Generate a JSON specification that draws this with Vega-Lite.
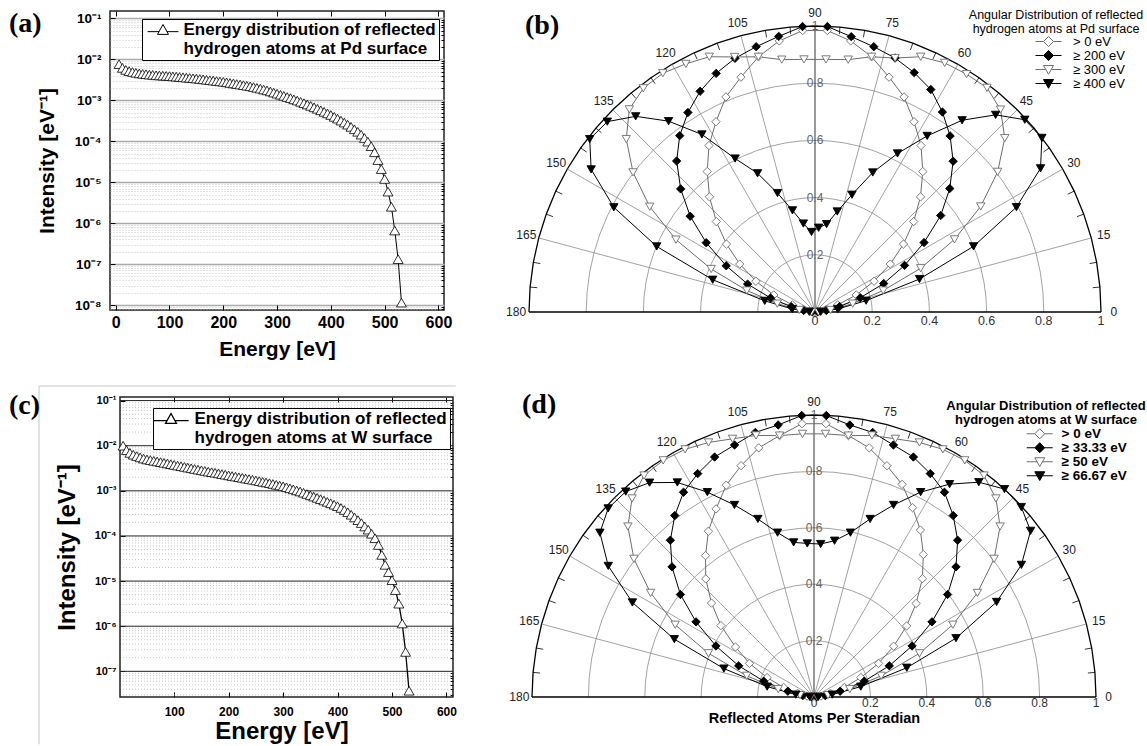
{
"$schema": "https://vega.github.io/schema/vega-lite/v6.json",
"background": "white",
"padding": {"left": 8, "top": 7, "right": 0, "bottom": 0},
"columns": 1,
"align": "none",
"spacing": 25,
"resolve": {"scale": {"shape": "independent", "fill": "independent", "stroke": "independent"}, "legend": {"shape": "independent", "fill": "independent", "stroke": "independent"}},
"config": {
  "font": "Liberation Sans",
  "view": {"stroke": null},
  "axis": {"labelFont": "Liberation Sans", "titleFont": "Liberation Sans", "labelColor": "black", "titleColor": "black", "tickColor": "black", "domain": false, "labelOverlap": false, "labelFlush": false},
  "legend": {"labelFont": "Liberation Sans", "titleFont": "Liberation Sans"},
  "title": {"font": "Liberation Serif"}
},
"datasets": {
"pdE": [
{"E":6.25,"I":7.59e-3},{"E":12.5,"I":6.17e-3},{"E":18.75,"I":5.50e-3},{"E":25,"I":5.13e-3},{"E":31.25,"I":4.90e-3},{"E":37.5,"I":4.68e-3},{"E":43.75,"I":4.52e-3},{"E":50,"I":4.42e-3},{"E":56.25,"I":4.32e-3},{"E":62.5,"I":4.22e-3},
{"E":68.75,"I":4.17e-3},{"E":75,"I":4.07e-3},{"E":81.25,"I":4.03e-3},{"E":87.5,"I":3.98e-3},{"E":93.75,"I":3.94e-3},{"E":100,"I":3.89e-3},{"E":106.25,"I":3.82e-3},{"E":112.5,"I":3.76e-3},{"E":118.75,"I":3.69e-3},{"E":125,"I":3.63e-3},
{"E":131.25,"I":3.56e-3},{"E":137.5,"I":3.51e-3},{"E":143.75,"I":3.44e-3},{"E":150,"I":3.39e-3},{"E":156.25,"I":3.31e-3},{"E":162.5,"I":3.24e-3},{"E":168.75,"I":3.16e-3},{"E":175,"I":3.09e-3},{"E":181.25,"I":3.02e-3},{"E":187.5,"I":2.95e-3},
{"E":193.75,"I":2.88e-3},{"E":200,"I":2.82e-3},{"E":206.25,"I":2.74e-3},{"E":212.5,"I":2.65e-3},{"E":218.75,"I":2.57e-3},{"E":225,"I":2.49e-3},{"E":231.25,"I":2.42e-3},{"E":237.5,"I":2.34e-3},{"E":243.75,"I":2.26e-3},{"E":250,"I":2.19e-3},
{"E":256.25,"I":2.10e-3},{"E":262.5,"I":2.01e-3},{"E":268.75,"I":1.92e-3},{"E":275,"I":1.83e-3},{"E":281.25,"I":1.74e-3},{"E":287.5,"I":1.64e-3},{"E":293.75,"I":1.54e-3},{"E":300,"I":1.45e-3},{"E":306.25,"I":1.36e-3},{"E":312.5,"I":1.28e-3},
{"E":318.75,"I":1.20e-3},{"E":325,"I":1.13e-3},{"E":331.25,"I":1.05e-3},{"E":337.5,"I":9.84e-4},{"E":343.75,"I":9.16e-4},{"E":350,"I":8.51e-4},{"E":356.25,"I":7.87e-4},{"E":362.5,"I":7.28e-4},{"E":368.75,"I":6.71e-4},{"E":375,"I":6.18e-4},
{"E":381.25,"I":5.68e-4},{"E":387.5,"I":5.21e-4},{"E":393.75,"I":4.78e-4},{"E":400,"I":4.37e-4},{"E":406.25,"I":3.94e-4},{"E":412.5,"I":3.56e-4},{"E":418.75,"I":3.19e-4},{"E":425,"I":2.85e-4},{"E":431.25,"I":2.54e-4},{"E":437.5,"I":2.24e-4},
{"E":443.75,"I":1.96e-4},{"E":450,"I":1.70e-4},{"E":456.25,"I":1.45e-4},{"E":462.5,"I":1.20e-4},{"E":468.75,"I":9.77e-5},{"E":475,"I":7.59e-5},{"E":481.25,"I":5.37e-5},{"E":487.5,"I":3.47e-5},{"E":493.75,"I":2.09e-5},{"E":500,"I":1.20e-5},
{"E":506.25,"I":5.89e-6},{"E":512.5,"I":2.51e-6},{"E":518.75,"I":6.61e-7},{"E":525,"I":1.32e-7},{"E":531.25,"I":1.15e-8}
],
"wE": [
{"E":6.25,"I":1.00e-2},{"E":12.5,"I":7.94e-3},{"E":18.75,"I":6.92e-3},{"E":25,"I":6.31e-3},{"E":31.25,"I":5.89e-3},{"E":37.5,"I":5.50e-3},{"E":43.75,"I":5.19e-3},{"E":50,"I":4.95e-3},{"E":56.25,"I":4.79e-3},{"E":62.5,"I":4.62e-3},
{"E":68.75,"I":4.47e-3},{"E":75,"I":4.32e-3},{"E":81.25,"I":4.17e-3},{"E":87.5,"I":4.03e-3},{"E":93.75,"I":3.89e-3},{"E":100,"I":3.76e-3},{"E":106.25,"I":3.63e-3},{"E":112.5,"I":3.51e-3},{"E":118.75,"I":3.39e-3},{"E":125,"I":3.27e-3},
{"E":131.25,"I":3.16e-3},{"E":137.5,"I":3.05e-3},{"E":143.75,"I":2.95e-3},{"E":150,"I":2.85e-3},{"E":156.25,"I":2.76e-3},{"E":162.5,"I":2.67e-3},{"E":168.75,"I":2.59e-3},{"E":175,"I":2.51e-3},{"E":181.25,"I":2.43e-3},{"E":187.5,"I":2.35e-3},
{"E":193.75,"I":2.28e-3},{"E":200,"I":2.20e-3},{"E":206.25,"I":2.13e-3},{"E":212.5,"I":2.07e-3},{"E":218.75,"I":2.00e-3},{"E":225,"I":1.94e-3},{"E":231.25,"I":1.87e-3},{"E":237.5,"I":1.82e-3},{"E":243.75,"I":1.76e-3},{"E":250,"I":1.70e-3},
{"E":256.25,"I":1.64e-3},{"E":262.5,"I":1.58e-3},{"E":268.75,"I":1.53e-3},{"E":275,"I":1.48e-3},{"E":281.25,"I":1.42e-3},{"E":287.5,"I":1.36e-3},{"E":293.75,"I":1.31e-3},{"E":300,"I":1.26e-3},{"E":306.25,"I":1.20e-3},{"E":312.5,"I":1.14e-3},
{"E":318.75,"I":1.08e-3},{"E":325,"I":1.02e-3},{"E":331.25,"I":9.66e-4},{"E":337.5,"I":9.08e-4},{"E":343.75,"I":8.51e-4},{"E":350,"I":7.94e-4},{"E":356.25,"I":7.45e-4},{"E":362.5,"I":6.98e-4},{"E":368.75,"I":6.53e-4},{"E":375,"I":6.10e-4},
{"E":381.25,"I":5.69e-4},{"E":387.5,"I":5.30e-4},{"E":393.75,"I":4.92e-4},{"E":400,"I":4.57e-4},{"E":406.25,"I":4.17e-4},{"E":412.5,"I":3.76e-4},{"E":418.75,"I":3.35e-4},{"E":425,"I":2.95e-4},{"E":431.25,"I":2.57e-4},{"E":437.5,"I":2.24e-4},
{"E":443.75,"I":1.93e-4},{"E":450,"I":1.62e-4},{"E":456.25,"I":1.38e-4},{"E":462.5,"I":1.12e-4},{"E":468.75,"I":8.91e-5},{"E":475,"I":6.31e-5},{"E":481.25,"I":3.80e-5},{"E":487.5,"I":2.29e-5},{"E":493.75,"I":1.58e-5},{"E":500,"I":1.05e-5},
{"E":506.25,"I":6.31e-6},{"E":512.5,"I":3.16e-6},{"E":518.75,"I":1.15e-6},{"E":525,"I":2.69e-7},{"E":531.25,"I":3.72e-8}
],
"pdA": [
{"s":"> 0 eV","a":2.5,"r":0.005},{"s":"> 0 eV","a":7.5,"r":0.018},{"s":"> 0 eV","a":12.5,"r":0.042},{"s":"> 0 eV","a":17.5,"r":0.083},{"s":"> 0 eV","a":22.5,"r":0.156},{"s":"> 0 eV","a":27.5,"r":0.233},{"s":"> 0 eV","a":32.5,"r":0.312},{"s":"> 0 eV","a":37.5,"r":0.39},{"s":"> 0 eV","a":42.5,"r":0.468},{"s":"> 0 eV","a":47.5,"r":0.546},{"s":"> 0 eV","a":52.5,"r":0.619},{"s":"> 0 eV","a":57.5,"r":0.69},{"s":"> 0 eV","a":62.5,"r":0.75},{"s":"> 0 eV","a":67.5,"r":0.814},{"s":"> 0 eV","a":72.5,"r":0.861},{"s":"> 0 eV","a":77.5,"r":0.914},{"s":"> 0 eV","a":82.5,"r":0.956},{"s":"> 0 eV","a":87.5,"r":0.985},
{"s":"> 0 eV","a":92.5,"r":0.985},{"s":"> 0 eV","a":97.5,"r":0.956},{"s":"> 0 eV","a":102.5,"r":0.914},{"s":"> 0 eV","a":107.5,"r":0.861},{"s":"> 0 eV","a":112.5,"r":0.814},{"s":"> 0 eV","a":117.5,"r":0.75},{"s":"> 0 eV","a":122.5,"r":0.69},{"s":"> 0 eV","a":127.5,"r":0.619},{"s":"> 0 eV","a":132.5,"r":0.546},{"s":"> 0 eV","a":137.5,"r":0.468},{"s":"> 0 eV","a":142.5,"r":0.39},{"s":"> 0 eV","a":147.5,"r":0.312},{"s":"> 0 eV","a":152.5,"r":0.233},{"s":"> 0 eV","a":157.5,"r":0.156},{"s":"> 0 eV","a":162.5,"r":0.083},{"s":"> 0 eV","a":167.5,"r":0.042},{"s":"> 0 eV","a":172.5,"r":0.018},{"s":"> 0 eV","a":177.5,"r":0.005},
{"s":"≥ 200 eV","a":2.5,"r":0.01},{"s":"≥ 200 eV","a":7.5,"r":0.04},{"s":"≥ 200 eV","a":12.5,"r":0.088},{"s":"≥ 200 eV","a":17.5,"r":0.166},{"s":"≥ 200 eV","a":22.5,"r":0.26},{"s":"≥ 200 eV","a":27.5,"r":0.353},{"s":"≥ 200 eV","a":32.5,"r":0.452},{"s":"≥ 200 eV","a":37.5,"r":0.554},{"s":"≥ 200 eV","a":42.5,"r":0.639},{"s":"≥ 200 eV","a":47.5,"r":0.715},{"s":"≥ 200 eV","a":52.5,"r":0.776},{"s":"≥ 200 eV","a":57.5,"r":0.829},{"s":"≥ 200 eV","a":62.5,"r":0.877},{"s":"≥ 200 eV","a":67.5,"r":0.906},{"s":"≥ 200 eV","a":72.5,"r":0.931},{"s":"≥ 200 eV","a":77.5,"r":0.95},{"s":"≥ 200 eV","a":82.5,"r":0.971},{"s":"≥ 200 eV","a":87.5,"r":0.999},
{"s":"≥ 200 eV","a":92.5,"r":0.999},{"s":"≥ 200 eV","a":97.5,"r":0.972},{"s":"≥ 200 eV","a":102.5,"r":0.95},{"s":"≥ 200 eV","a":107.5,"r":0.93},{"s":"≥ 200 eV","a":112.5,"r":0.903},{"s":"≥ 200 eV","a":117.5,"r":0.87},{"s":"≥ 200 eV","a":122.5,"r":0.827},{"s":"≥ 200 eV","a":127.5,"r":0.777},{"s":"≥ 200 eV","a":132.5,"r":0.716},{"s":"≥ 200 eV","a":137.5,"r":0.637},{"s":"≥ 200 eV","a":142.5,"r":0.55},{"s":"≥ 200 eV","a":147.5,"r":0.451},{"s":"≥ 200 eV","a":152.5,"r":0.35},{"s":"≥ 200 eV","a":157.5,"r":0.255},{"s":"≥ 200 eV","a":162.5,"r":0.163},{"s":"≥ 200 eV","a":167.5,"r":0.085},{"s":"≥ 200 eV","a":172.5,"r":0.04},{"s":"≥ 200 eV","a":177.5,"r":0.01},
{"s":"≥ 300 eV","a":2.5,"r":0.012},{"s":"≥ 300 eV","a":7.5,"r":0.055},{"s":"≥ 300 eV","a":12.5,"r":0.135},{"s":"≥ 300 eV","a":17.5,"r":0.25},{"s":"≥ 300 eV","a":22.5,"r":0.4},{"s":"≥ 300 eV","a":27.5,"r":0.55},{"s":"≥ 300 eV","a":32.5,"r":0.687},{"s":"≥ 300 eV","a":37.5,"r":0.805},{"s":"≥ 300 eV","a":42.5,"r":0.9},{"s":"≥ 300 eV","a":47.5,"r":0.96},{"s":"≥ 300 eV","a":52.5,"r":0.988},{"s":"≥ 300 eV","a":57.5,"r":0.986},{"s":"≥ 300 eV","a":62.5,"r":0.982},{"s":"≥ 300 eV","a":67.5,"r":0.966},{"s":"≥ 300 eV","a":72.5,"r":0.931},{"s":"≥ 300 eV","a":77.5,"r":0.914},{"s":"≥ 300 eV","a":82.5,"r":0.89},{"s":"≥ 300 eV","a":87.5,"r":0.884},
{"s":"≥ 300 eV","a":92.5,"r":0.884},{"s":"≥ 300 eV","a":97.5,"r":0.89},{"s":"≥ 300 eV","a":102.5,"r":0.914},{"s":"≥ 300 eV","a":107.5,"r":0.935},{"s":"≥ 300 eV","a":112.5,"r":0.966},{"s":"≥ 300 eV","a":117.5,"r":0.978},{"s":"≥ 300 eV","a":122.5,"r":0.99},{"s":"≥ 300 eV","a":127.5,"r":0.986},{"s":"≥ 300 eV","a":132.5,"r":0.961},{"s":"≥ 300 eV","a":137.5,"r":0.895},{"s":"≥ 300 eV","a":142.5,"r":0.802},{"s":"≥ 300 eV","a":147.5,"r":0.685},{"s":"≥ 300 eV","a":152.5,"r":0.548},{"s":"≥ 300 eV","a":157.5,"r":0.393},{"s":"≥ 300 eV","a":162.5,"r":0.25},{"s":"≥ 300 eV","a":167.5,"r":0.135},{"s":"≥ 300 eV","a":172.5,"r":0.055},{"s":"≥ 300 eV","a":177.5,"r":0.012},
{"s":"≥ 400 eV","a":2.5,"r":0.02},{"s":"≥ 400 eV","a":7.5,"r":0.08},{"s":"≥ 400 eV","a":12.5,"r":0.183},{"s":"≥ 400 eV","a":17.5,"r":0.383},{"s":"≥ 400 eV","a":22.5,"r":0.6},{"s":"≥ 400 eV","a":27.5,"r":0.794},{"s":"≥ 400 eV","a":32.5,"r":0.935},{"s":"≥ 400 eV","a":37.5,"r":1.0},{"s":"≥ 400 eV","a":42.5,"r":0.995},{"s":"≥ 400 eV","a":47.5,"r":0.935},{"s":"≥ 400 eV","a":52.5,"r":0.845},{"s":"≥ 400 eV","a":57.5,"r":0.73},{"s":"≥ 400 eV","a":62.5,"r":0.625},{"s":"≥ 400 eV","a":67.5,"r":0.528},{"s":"≥ 400 eV","a":72.5,"r":0.43},{"s":"≥ 400 eV","a":77.5,"r":0.36},{"s":"≥ 400 eV","a":82.5,"r":0.31},{"s":"≥ 400 eV","a":87.5,"r":0.295},
{"s":"≥ 400 eV","a":92.5,"r":0.28},{"s":"≥ 400 eV","a":97.5,"r":0.312},{"s":"≥ 400 eV","a":102.5,"r":0.364},{"s":"≥ 400 eV","a":107.5,"r":0.436},{"s":"≥ 400 eV","a":112.5,"r":0.525},{"s":"≥ 400 eV","a":117.5,"r":0.605},{"s":"≥ 400 eV","a":122.5,"r":0.736},{"s":"≥ 400 eV","a":127.5,"r":0.841},{"s":"≥ 400 eV","a":132.5,"r":0.928},{"s":"≥ 400 eV","a":137.5,"r":0.985},{"s":"≥ 400 eV","a":142.5,"r":0.993},{"s":"≥ 400 eV","a":147.5,"r":0.928},{"s":"≥ 400 eV","a":152.5,"r":0.793},{"s":"≥ 400 eV","a":157.5,"r":0.599},{"s":"≥ 400 eV","a":162.5,"r":0.375},{"s":"≥ 400 eV","a":167.5,"r":0.18},{"s":"≥ 400 eV","a":172.5,"r":0.08},{"s":"≥ 400 eV","a":177.5,"r":0.02}
],
"wA": [
{"s":"> 0 eV","a":2.5,"r":0.006},{"s":"> 0 eV","a":7.5,"r":0.025},{"s":"> 0 eV","a":12.5,"r":0.06},{"s":"> 0 eV","a":17.5,"r":0.113},{"s":"> 0 eV","a":22.5,"r":0.18},{"s":"> 0 eV","a":27.5,"r":0.258},{"s":"> 0 eV","a":32.5,"r":0.335},{"s":"> 0 eV","a":37.5,"r":0.414},{"s":"> 0 eV","a":42.5,"r":0.491},{"s":"> 0 eV","a":47.5,"r":0.569},{"s":"> 0 eV","a":52.5,"r":0.637},{"s":"> 0 eV","a":57.5,"r":0.702},{"s":"> 0 eV","a":62.5,"r":0.757},{"s":"> 0 eV","a":67.5,"r":0.816},{"s":"> 0 eV","a":72.5,"r":0.86},{"s":"> 0 eV","a":77.5,"r":0.905},{"s":"> 0 eV","a":82.5,"r":0.935},{"s":"> 0 eV","a":87.5,"r":0.97},
{"s":"> 0 eV","a":92.5,"r":0.97},{"s":"> 0 eV","a":97.5,"r":0.935},{"s":"> 0 eV","a":102.5,"r":0.905},{"s":"> 0 eV","a":107.5,"r":0.86},{"s":"> 0 eV","a":112.5,"r":0.813},{"s":"> 0 eV","a":117.5,"r":0.752},{"s":"> 0 eV","a":122.5,"r":0.697},{"s":"> 0 eV","a":127.5,"r":0.632},{"s":"> 0 eV","a":132.5,"r":0.568},{"s":"> 0 eV","a":137.5,"r":0.493},{"s":"> 0 eV","a":142.5,"r":0.416},{"s":"> 0 eV","a":147.5,"r":0.33},{"s":"> 0 eV","a":152.5,"r":0.258},{"s":"> 0 eV","a":157.5,"r":0.18},{"s":"> 0 eV","a":162.5,"r":0.113},{"s":"> 0 eV","a":167.5,"r":0.06},{"s":"> 0 eV","a":172.5,"r":0.025},{"s":"> 0 eV","a":177.5,"r":0.006},
{"s":"≥ 33.33 eV","a":2.5,"r":0.01},{"s":"≥ 33.33 eV","a":7.5,"r":0.04},{"s":"≥ 33.33 eV","a":12.5,"r":0.095},{"s":"≥ 33.33 eV","a":17.5,"r":0.187},{"s":"≥ 33.33 eV","a":22.5,"r":0.289},{"s":"≥ 33.33 eV","a":27.5,"r":0.392},{"s":"≥ 33.33 eV","a":32.5,"r":0.496},{"s":"≥ 33.33 eV","a":37.5,"r":0.597},{"s":"≥ 33.33 eV","a":42.5,"r":0.683},{"s":"≥ 33.33 eV","a":47.5,"r":0.754},{"s":"≥ 33.33 eV","a":52.5,"r":0.811},{"s":"≥ 33.33 eV","a":57.5,"r":0.861},{"s":"≥ 33.33 eV","a":62.5,"r":0.893},{"s":"≥ 33.33 eV","a":67.5,"r":0.921},{"s":"≥ 33.33 eV","a":72.5,"r":0.937},{"s":"≥ 33.33 eV","a":77.5,"r":0.961},{"s":"≥ 33.33 eV","a":82.5,"r":0.973},{"s":"≥ 33.33 eV","a":87.5,"r":0.999},
{"s":"≥ 33.33 eV","a":92.5,"r":0.999},{"s":"≥ 33.33 eV","a":97.5,"r":0.973},{"s":"≥ 33.33 eV","a":102.5,"r":0.961},{"s":"≥ 33.33 eV","a":107.5,"r":0.937},{"s":"≥ 33.33 eV","a":112.5,"r":0.921},{"s":"≥ 33.33 eV","a":117.5,"r":0.893},{"s":"≥ 33.33 eV","a":122.5,"r":0.861},{"s":"≥ 33.33 eV","a":127.5,"r":0.811},{"s":"≥ 33.33 eV","a":132.5,"r":0.754},{"s":"≥ 33.33 eV","a":137.5,"r":0.683},{"s":"≥ 33.33 eV","a":142.5,"r":0.597},{"s":"≥ 33.33 eV","a":147.5,"r":0.496},{"s":"≥ 33.33 eV","a":152.5,"r":0.392},{"s":"≥ 33.33 eV","a":157.5,"r":0.289},{"s":"≥ 33.33 eV","a":162.5,"r":0.187},{"s":"≥ 33.33 eV","a":167.5,"r":0.095},{"s":"≥ 33.33 eV","a":172.5,"r":0.04},{"s":"≥ 33.33 eV","a":177.5,"r":0.01},
{"s":"≥ 50 eV","a":2.5,"r":0.012},{"s":"≥ 50 eV","a":7.5,"r":0.05},{"s":"≥ 50 eV","a":12.5,"r":0.13},{"s":"≥ 50 eV","a":17.5,"r":0.25},{"s":"≥ 50 eV","a":22.5,"r":0.405},{"s":"≥ 50 eV","a":27.5,"r":0.555},{"s":"≥ 50 eV","a":32.5,"r":0.687},{"s":"≥ 50 eV","a":37.5,"r":0.805},{"s":"≥ 50 eV","a":42.5,"r":0.895},{"s":"≥ 50 eV","a":47.5,"r":0.955},{"s":"≥ 50 eV","a":52.5,"r":0.99},{"s":"≥ 50 eV","a":57.5,"r":0.995},{"s":"≥ 50 eV","a":62.5,"r":0.99},{"s":"≥ 50 eV","a":67.5,"r":0.977},{"s":"≥ 50 eV","a":72.5,"r":0.96},{"s":"≥ 50 eV","a":77.5,"r":0.95},{"s":"≥ 50 eV","a":82.5,"r":0.935},{"s":"≥ 50 eV","a":87.5,"r":0.934},
{"s":"≥ 50 eV","a":92.5,"r":0.934},{"s":"≥ 50 eV","a":97.5,"r":0.935},{"s":"≥ 50 eV","a":102.5,"r":0.95},{"s":"≥ 50 eV","a":107.5,"r":0.96},{"s":"≥ 50 eV","a":112.5,"r":0.977},{"s":"≥ 50 eV","a":117.5,"r":0.99},{"s":"≥ 50 eV","a":122.5,"r":0.995},{"s":"≥ 50 eV","a":127.5,"r":0.99},{"s":"≥ 50 eV","a":132.5,"r":0.955},{"s":"≥ 50 eV","a":137.5,"r":0.895},{"s":"≥ 50 eV","a":142.5,"r":0.805},{"s":"≥ 50 eV","a":147.5,"r":0.687},{"s":"≥ 50 eV","a":152.5,"r":0.555},{"s":"≥ 50 eV","a":157.5,"r":0.405},{"s":"≥ 50 eV","a":162.5,"r":0.25},{"s":"≥ 50 eV","a":167.5,"r":0.13},{"s":"≥ 50 eV","a":172.5,"r":0.05},{"s":"≥ 50 eV","a":177.5,"r":0.012},
{"s":"≥ 66.67 eV","a":2.5,"r":0.015},{"s":"≥ 66.67 eV","a":7.5,"r":0.065},{"s":"≥ 66.67 eV","a":12.5,"r":0.17},{"s":"≥ 66.67 eV","a":17.5,"r":0.345},{"s":"≥ 66.67 eV","a":22.5,"r":0.545},{"s":"≥ 66.67 eV","a":27.5,"r":0.73},{"s":"≥ 66.67 eV","a":32.5,"r":0.872},{"s":"≥ 66.67 eV","a":37.5,"r":0.968},{"s":"≥ 66.67 eV","a":42.5,"r":0.997},{"s":"≥ 66.67 eV","a":47.5,"r":1.0},{"s":"≥ 66.67 eV","a":52.5,"r":0.96},{"s":"≥ 66.67 eV","a":57.5,"r":0.895},{"s":"≥ 66.67 eV","a":62.5,"r":0.819},{"s":"≥ 66.67 eV","a":67.5,"r":0.737},{"s":"≥ 66.67 eV","a":72.5,"r":0.662},{"s":"≥ 66.67 eV","a":77.5,"r":0.597},{"s":"≥ 66.67 eV","a":82.5,"r":0.559},{"s":"≥ 66.67 eV","a":87.5,"r":0.543},
{"s":"≥ 66.67 eV","a":92.5,"r":0.545},{"s":"≥ 66.67 eV","a":97.5,"r":0.553},{"s":"≥ 66.67 eV","a":102.5,"r":0.597},{"s":"≥ 66.67 eV","a":107.5,"r":0.662},{"s":"≥ 66.67 eV","a":112.5,"r":0.737},{"s":"≥ 66.67 eV","a":117.5,"r":0.819},{"s":"≥ 66.67 eV","a":122.5,"r":0.902},{"s":"≥ 66.67 eV","a":127.5,"r":0.958},{"s":"≥ 66.67 eV","a":132.5,"r":0.988},{"s":"≥ 66.67 eV","a":137.5,"r":0.99},{"s":"≥ 66.67 eV","a":142.5,"r":0.957},{"s":"≥ 66.67 eV","a":147.5,"r":0.865},{"s":"≥ 66.67 eV","a":152.5,"r":0.726},{"s":"≥ 66.67 eV","a":157.5,"r":0.536},{"s":"≥ 66.67 eV","a":162.5,"r":0.335},{"s":"≥ 66.67 eV","a":167.5,"r":0.17},{"s":"≥ 66.67 eV","a":172.5,"r":0.065},{"s":"≥ 66.67 eV","a":177.5,"r":0.015}
]
},
"concat": [
{"hconcat": [
 {
  "width": 334, "height": 299,
  "view": {"stroke": "#222", "strokeWidth": 1.5},
  "title": {"text": "(a)", "anchor": "start", "frame": "group", "orient": "top", "offset": 0, "dx": -101, "dy": 49, "baseline": "alphabetic", "font": "Liberation Serif", "fontSize": 28, "fontWeight": "bold", "color": "black"},
  "data": {"name": "pdE"},
  "layer": [
   {"mark": {"type": "line", "color": "black", "strokeWidth": 1},
    "encoding": {
     "x": {"field": "E", "type": "quantitative", "scale": {"domain": [-10.6, 610.3], "nice": false, "zero": false},
           "axis": {"orient": "bottom", "values": [0,100,200,300,400,500,600], "title": "Energy [eV]", "titleFontSize": 21, "titleFontWeight": "bold", "titlePadding": 8, "labelFontSize": 16, "labelFontWeight": "bold", "tickSize": -5, "labelPadding": 9, "grid": false}},
     "y": {"field": "I", "type": "quantitative", "scale": {"type": "log", "domain": [7.6e-9, 0.151], "nice": false},
           "axis": {"orient": "left", "values": [0.1,0.01,0.001,0.0001,0.00001,0.000001,1e-7,1e-8], "labelExpr": "'10' + ['⁰','⁻¹','⁻²','⁻³','⁻⁴','⁻⁵','⁻⁶','⁻⁷','⁻⁸','⁻⁹'][round(-log(datum.value)/LN10)]", "title": "Intensity [eV⁻¹]", "titleFontSize": 21, "titleFontWeight": "bold", "titlePadding": 17, "labelFontSize": 13.5, "labelFontWeight": "bold", "tickSize": -5, "labelPadding": 14, "grid": true, "gridColor": "#aaaaaa", "gridWidth": 1.5}}
    }},
   {"mark": {"type": "point", "shape": "triangle-up", "filled": true, "fill": "white", "stroke": "black", "strokeWidth": 0.8, "size": 100, "opacity": 1},
    "encoding": {
     "x": {"field": "E", "type": "quantitative", "scale": {"domain": [-10.6, 610.3], "nice": false, "zero": false},
           "axis": {"orient": "top", "values": [0,100,200,300,400,500,600], "labels": false, "title": null, "tickSize": -5, "grid": false}},
     "y": {"field": "I", "type": "quantitative", "scale": {"type": "log", "domain": [7.6e-9, 0.151], "nice": false},
           "axis": {"orient": "right", "values": [8e-9,9e-9,2e-8,3e-8,4e-8,5e-8,6e-8,7e-8,8e-8,9e-8,2e-7,3e-7,4e-7,5e-7,6e-7,7e-7,8e-7,9e-7,2e-6,3e-6,4e-6,5e-6,6e-6,7e-6,8e-6,9e-6,2e-5,3e-5,4e-5,5e-5,6e-5,7e-5,8e-5,9e-5,0.0002,0.0003,0.0004,0.0005,0.0006,0.0007,0.0008,0.0009,0.002,0.003,0.004,0.005,0.006,0.007,0.008,0.009,0.02,0.03,0.04,0.05,0.06,0.07,0.08,0.09], "labels": false, "title": null, "tickSize": -3, "grid": true, "gridColor": "#b8b8b8", "gridDash": [1,2], "gridWidth": 0.8}},
     "stroke": {"datum": "pd", "scale": {"range": ["black"]},
       "legend": {"orient": "none", "legendX": 32, "legendY": 8, "title": null,
         "labelExpr": "['Energy distribution of reflected', 'hydrogen atoms at Pd surface']",
         "labelFontSize": 17, "labelFontWeight": "bold", "labelColor": "black", "labelLimit": 0, "labelLineHeight": 19, "labelOffset": 12,
         "symbolType": "M-2.8,0.3L-0.72,0.3M0.72,0.3L2.8,0.3M0,-1L1,0.8L-1,0.8Z", "symbolSize": 121, "symbolOffset": 10, "symbolStrokeWidth": 1,
         "fillColor": "white", "strokeColor": "black", "padding": 2.5, "cornerRadius": 0}}
    }}
  ],
  "resolve": {"axis": {"x": "independent", "y": "independent"}}
 },
 {
  "width": 572, "height": 301,
  "title": {"text": "(b)", "anchor": "start", "frame": "group", "orient": "top", "offset": 0, "dx": -4, "dy": 55, "baseline": "alphabetic", "font": "Liberation Serif", "fontSize": 28, "fontWeight": "bold", "color": "black"},
  "resolve": {"scale": {"shape": "independent", "fill": "independent", "stroke": "independent"}},
  "layer": [
   {"data": {"values": [{"a": [0,5,10,15,20,25,30,35,40,45,50,55,60,65,70,75,80,85,90,95,100,105,110,115,120,125,130,135,140,145,150,155,160,165,170,175,180], "rr": [0.2,0.4,0.6,0.8,1]}]},
    "transform": [{"flatten": ["a"]}, {"flatten": ["rr"]}, {"calculate": "datum.rr*cos(datum.a*PI/180)", "as": "px"}, {"calculate": "datum.rr*sin(datum.a*PI/180)", "as": "py"}],
    "mark": {"type": "line", "clip": false},
    "encoding": {
     "x": {"field": "px", "type": "quantitative", "scale": {"domain": [-1, 1], "nice": false, "zero": false}, "axis": null},
     "y": {"field": "py", "type": "quantitative", "scale": {"domain": [0, 1.0524], "nice": false, "zero": false}, "axis": null},
     "detail": {"field": "rr", "type": "nominal"},
     "order": {"field": "a", "type": "quantitative"},
     "color": {"condition": {"test": "datum.rr == 1", "value": "black"}, "value": "#8a8a8a"},
     "strokeWidth": {"condition": {"test": "datum.rr == 1", "value": 1.3}, "value": 0.8}}},
   {"data": {"values": [{"a": [0,15,30,45,60,75,90,105,120,135,150,165,180]}]},
    "transform": [{"flatten": ["a"]}, {"calculate": "0", "as": "px"}, {"calculate": "0", "as": "py"}, {"calculate": "cos(datum.a*PI/180)", "as": "px2"}, {"calculate": "sin(datum.a*PI/180)", "as": "py2"}],
    "mark": {"type": "rule", "clip": false},
    "encoding": {
     "x": {"field": "px", "type": "quantitative", "scale": {"domain": [-1, 1], "nice": false, "zero": false}, "axis": null},
     "y": {"field": "py", "type": "quantitative", "scale": {"domain": [0, 1.0524], "nice": false, "zero": false}, "axis": null},
     "x2": {"field": "px2"}, "y2": {"field": "py2"},
     "color": {"condition": {"test": "datum.a == 0 || datum.a == 90 || datum.a == 180", "value": "black"}, "value": "#8a8a8a"},
     "strokeWidth": {"condition": {"test": "datum.a == 0 || datum.a == 180", "value": 1.3}, "value": 0.8}}},
   {"data": {"values": [{"a": [5,10,20,25,35,40,50,55,65,70,80,85,95,100,110,115,125,130,140,145,155,160,170,175]}]},
    "transform": [{"flatten": ["a"]}, {"calculate": "0.975*cos(datum.a*PI/180)", "as": "px"}, {"calculate": "0.975*sin(datum.a*PI/180)", "as": "py"}, {"calculate": "cos(datum.a*PI/180)", "as": "px2"}, {"calculate": "sin(datum.a*PI/180)", "as": "py2"}],
    "mark": {"type": "rule", "color": "black", "strokeWidth": 0.8, "clip": false},
    "encoding": {
     "x": {"field": "px", "type": "quantitative", "scale": {"domain": [-1, 1], "nice": false, "zero": false}, "axis": null},
     "y": {"field": "py", "type": "quantitative", "scale": {"domain": [0, 1.0524], "nice": false, "zero": false}, "axis": null},
     "x2": {"field": "px2"}, "y2": {"field": "py2"}}},
   {"data": {"values": [{"a": [0,15,30,45,60,75,90,105,120,135,150,165,180]}]},
    "transform": [{"flatten": ["a"]}, {"calculate": "1.045*cos(datum.a*PI/180)", "as": "px"}, {"calculate": "1.045*sin(datum.a*PI/180)", "as": "py"}],
    "mark": {"type": "text", "fontSize": 12, "color": "#222", "align": "center", "baseline": "middle", "clip": false},
    "encoding": {
     "x": {"field": "px", "type": "quantitative", "scale": {"domain": [-1, 1], "nice": false, "zero": false}, "axis": null},
     "y": {"field": "py", "type": "quantitative", "scale": {"domain": [0, 1.0524], "nice": false, "zero": false}, "axis": null},
     "text": {"field": "a", "type": "quantitative", "format": "d"}}},
   {"data": {"values": [{"v": [0.2,0.4,0.6,0.8,1]}]},
    "transform": [{"flatten": ["v"]}, {"calculate": "0", "as": "px"}, {"calculate": "datum.v", "as": "py"}],
    "mark": {"type": "text", "fontSize": 12, "color": "#666", "align": "center", "baseline": "middle", "clip": false},
    "encoding": {
     "x": {"field": "px", "type": "quantitative", "scale": {"domain": [-1, 1], "nice": false, "zero": false}, "axis": null},
     "y": {"field": "py", "type": "quantitative", "scale": {"domain": [0, 1.0524], "nice": false, "zero": false}, "axis": null},
     "text": {"field": "v", "type": "quantitative", "format": "~g"}}},
   {"data": {"values": [{"v": [0,0.2,0.4,0.6,0.8,1]}]},
    "transform": [{"flatten": ["v"]}, {"calculate": "datum.v", "as": "px"}, {"calculate": "0", "as": "py"}],
    "mark": {"type": "text", "fontSize": 12.5, "color": "#333", "align": "center", "baseline": "top", "dy": 3, "clip": false},
    "encoding": {
     "x": {"field": "px", "type": "quantitative", "scale": {"domain": [-1, 1], "nice": false, "zero": false}, "axis": null},
     "y": {"field": "py", "type": "quantitative", "scale": {"domain": [0, 1.0524], "nice": false, "zero": false}, "axis": null},
     "text": {"field": "v", "type": "quantitative", "format": "~g"}}},
   {"data": {"name": "pdA"},
    "transform": [{"calculate": "datum.r*cos(datum.a*PI/180)", "as": "px"}, {"calculate": "datum.r*sin(datum.a*PI/180)", "as": "py"}],
    "mark": {"type": "line", "strokeWidth": 1, "clip": false},
    "encoding": {
     "x": {"field": "px", "type": "quantitative", "scale": {"domain": [-1, 1], "nice": false, "zero": false}, "axis": null},
     "y": {"field": "py", "type": "quantitative", "scale": {"domain": [0, 1.0524], "nice": false, "zero": false}, "axis": null},
     "detail": {"field": "s", "type": "nominal"},
     "order": {"field": "a", "type": "quantitative"},
     "stroke": {"field": "s", "type": "nominal", "scale": {"domain": ["> 0 eV","≥ 200 eV","≥ 300 eV","≥ 400 eV"], "range": ["#6e6e6e","black","#6e6e6e","black"]}, "legend": null}}},
   {"data": {"name": "pdA"},
    "transform": [{"calculate": "datum.r*cos(datum.a*PI/180)", "as": "px"}, {"calculate": "datum.r*sin(datum.a*PI/180)", "as": "py"}],
    "mark": {"type": "point", "filled": true, "size": 70, "strokeWidth": 0.9, "opacity": 1, "clip": false},
    "encoding": {
     "x": {"field": "px", "type": "quantitative", "scale": {"domain": [-1, 1], "nice": false, "zero": false}, "axis": null},
     "y": {"field": "py", "type": "quantitative", "scale": {"domain": [0, 1.0524], "nice": false, "zero": false}, "axis": null},
     "stroke": {"field": "s", "type": "nominal", "scale": {"domain": ["> 0 eV","≥ 200 eV","≥ 300 eV","≥ 400 eV"], "range": ["#6e6e6e","black","#6e6e6e","black"]}, "legend": null},
     "fill": {"field": "s", "type": "nominal", "scale": {"domain": ["> 0 eV","≥ 200 eV","≥ 300 eV","≥ 400 eV"], "range": ["white","black","white","black"]}, "legend": null},
     "shape": {"field": "s", "type": "nominal", "scale": {"domain": ["> 0 eV","≥ 200 eV","≥ 300 eV","≥ 400 eV"], "range": ["diamond","diamond","triangle-down","triangle-down"]}, "legend": null}}},
   {"data": {"name": "pdA"},
    "transform": [{"filter": "false"}],
    "mark": {"type": "point", "filled": true, "size": 100, "opacity": 1, "strokeWidth": 1},
    "encoding": {
     "stroke": {"field": "s", "type": "nominal", "scale": {"domain": ["> 0 eV","≥ 200 eV","≥ 300 eV","≥ 400 eV"], "range": ["#6e6e6e","black","#6e6e6e","black"]},
       "legend": {"orient": "none", "legendX": 440, "legendY": -2, "padding": 0, "title": ["Angular Distribution of reflected", "hydrogen atoms at Pd surface"], "titleFontSize": 12.5, "titleFontWeight": "normal", "titleColor": "black", "titleAnchor": "middle", "titleAlign": "center", "titleLineHeight": 13.5, "titlePadding": 0, "titleLimit": 0, "labelFontSize": 13, "labelColor": "black", "labelOffset": 18, "labelLimit": 0, "symbolSize": 100, "symbolStrokeWidth": 1, "symbolOffset": 54, "rowPadding": -6}},
     "fill": {"field": "s", "type": "nominal", "scale": {"domain": ["> 0 eV","≥ 200 eV","≥ 300 eV","≥ 400 eV"], "range": ["white","black","white","black"]},
       "legend": {"orient": "none", "legendX": 440, "legendY": -2, "padding": 0, "title": ["Angular Distribution of reflected", "hydrogen atoms at Pd surface"], "titleFontSize": 12.5, "titleFontWeight": "normal", "titleColor": "black", "titleAnchor": "middle", "titleAlign": "center", "titleLineHeight": 13.5, "titlePadding": 0, "titleLimit": 0, "labelFontSize": 13, "labelColor": "black", "labelOffset": 18, "labelLimit": 0, "symbolSize": 100, "symbolStrokeWidth": 1, "symbolOffset": 54, "rowPadding": -6}},
     "shape": {"field": "s", "type": "nominal", "scale": {"domain": ["> 0 eV","≥ 200 eV","≥ 300 eV","≥ 400 eV"], "range": ["M-2.6,0L-1,0M1,0L2.6,0M0,-1L1,0L0,1L-1,0Z","M-2.6,0L-1,0M1,0L2.6,0M0,-1L1,0L0,1L-1,0Z","M-2.6,0L-0.55,0M0.55,0L2.6,0M-1,-0.8L1,-0.8L0,0.95Z","M-2.6,0L-0.55,0M0.55,0L2.6,0M-1,-0.8L1,-0.8L0,0.95Z"]},
       "legend": {"orient": "none", "legendX": 440, "legendY": -2, "padding": 0, "title": ["Angular Distribution of reflected", "hydrogen atoms at Pd surface"], "titleFontSize": 12.5, "titleFontWeight": "normal", "titleColor": "black", "titleAnchor": "middle", "titleAlign": "center", "titleLineHeight": 13.5, "titlePadding": 0, "titleLimit": 0, "labelFontSize": 13, "labelColor": "black", "labelOffset": 18, "labelLimit": 0, "symbolSize": 100, "symbolStrokeWidth": 1, "symbolOffset": 54, "rowPadding": -6}}}}
  ]
 }
], "spacing": 53, "resolve": {"scale": {"shape": "independent", "fill": "independent", "stroke": "independent"}, "legend": {"shape": "independent", "fill": "independent", "stroke": "independent"}}},
{"hconcat": [
 {
  "width": 343, "height": 300,
  "title": {"text": "(c)", "anchor": "start", "frame": "group", "orient": "top", "offset": 0, "dx": -101, "dy": 56, "baseline": "alphabetic", "font": "Liberation Serif", "fontSize": 28, "fontWeight": "bold", "color": "black"},
  "data": {"name": "wE"},
  "layer": [
   {"data": {"values": [{}]},
    "mark": {"type": "rule", "color": "#c8c8c8", "strokeWidth": 1, "clip": false},
    "encoding": {
     "x": {"datum": -148.2, "type": "quantitative", "scale": {"domain": [-17.86, 612], "nice": false, "zero": false}, "axis": null},
     "y": {"datum": 0.21, "type": "quantitative", "scale": {"type": "log", "domain": [2.7e-8, 0.12], "nice": false}, "axis": null},
     "y2": {"datum": 2.4e-9}}},
   {"data": {"values": [{}]},
    "mark": {"type": "rule", "color": "#c8c8c8", "strokeWidth": 1, "clip": false},
    "encoding": {
     "x": {"datum": -148.2, "type": "quantitative", "scale": {"domain": [-17.86, 612], "nice": false, "zero": false}, "axis": null},
     "x2": {"datum": 617},
     "y": {"datum": 0.21, "type": "quantitative", "scale": {"type": "log", "domain": [2.7e-8, 0.12], "nice": false}, "axis": null}}},
   {"data": {"values": [{"g": [3e-8,4e-8,5e-8,6e-8,7e-8,8e-8,9e-8,2e-7,3e-7,4e-7,5e-7,6e-7,7e-7,8e-7,9e-7,2e-6,3e-6,4e-6,5e-6,6e-6,7e-6,8e-6,9e-6,2e-5,3e-5,4e-5,5e-5,6e-5,7e-5,8e-5,9e-5,0.0002,0.0003,0.0004,0.0005,0.0006,0.0007,0.0008,0.0009,0.002,0.003,0.004,0.005,0.006,0.007,0.008,0.009,0.02,0.03,0.04,0.05,0.06,0.07,0.08,0.09]}]},
    "transform": [{"flatten": ["g"]}],
    "mark": {"type": "rule", "color": "#b8b8b8", "strokeWidth": 0.8, "strokeDash": [1, 2]},
    "encoding": {
     "x": {"datum": 0.5, "type": "quantitative", "scale": {"domain": [-17.86, 612], "nice": false, "zero": false}, "axis": null},
     "x2": {"datum": 612},
     "y": {"field": "g", "type": "quantitative", "scale": {"type": "log", "domain": [2.7e-8, 0.12], "nice": false}, "axis": null}}},
   {"data": {"values": [{"g": [0.1,0.01,0.001,0.0001,0.00001,0.000001,1e-7]}]},
    "transform": [{"flatten": ["g"]}],
    "mark": {"type": "rule", "color": "#222", "strokeWidth": 1},
    "encoding": {
     "x": {"datum": 0.5, "type": "quantitative", "scale": {"domain": [-17.86, 612], "nice": false, "zero": false}, "axis": null},
     "x2": {"datum": 612},
     "y": {"field": "g", "type": "quantitative", "scale": {"type": "log", "domain": [2.7e-8, 0.12], "nice": false}, "axis": null}}},
   {"data": {"values": [{}]},
    "mark": {"type": "rect", "fill": null, "stroke": "#222", "strokeWidth": 1.5, "clip": false},
    "encoding": {
     "x": {"datum": 0.5, "type": "quantitative", "scale": {"domain": [-17.86, 612], "nice": false, "zero": false}, "axis": null},
     "x2": {"datum": 612},
     "y": {"datum": 0.12, "type": "quantitative", "scale": {"type": "log", "domain": [2.7e-8, 0.12], "nice": false}, "axis": null},
     "y2": {"datum": 2.7e-8}}},
   {"mark": {"type": "line", "color": "black", "strokeWidth": 1.3},
    "encoding": {
     "x": {"field": "E", "type": "quantitative", "scale": {"domain": [-17.86, 612], "nice": false, "zero": false},
           "axis": {"orient": "bottom", "values": [100,200,300,400,500,600], "title": "Energy [eV]", "titleFontSize": 24, "titleFontWeight": "bold", "titlePadding": 2, "labelFontSize": 12, "labelFontWeight": "bold", "tickSize": -5, "labelPadding": 14, "grid": false}},
     "y": {"field": "I", "type": "quantitative", "scale": {"type": "log", "domain": [2.7e-8, 0.12], "nice": false},
           "axis": {"orient": "left", "offset": -10, "values": [0.1,0.01,0.001,0.0001,0.00001,0.000001,1e-7], "labelExpr": "'10' + ['⁰','⁻¹','⁻²','⁻³','⁻⁴','⁻⁵','⁻⁶','⁻⁷','⁻⁸','⁻⁹'][round(-log(datum.value)/LN10)]", "title": "Intensity [eV⁻¹]", "titleFontSize": 24, "titleFontWeight": "bold", "titlePadding": 15, "labelFontSize": 11, "labelFontWeight": "bold", "tickSize": -5, "labelPadding": 9, "grid": false}}
    }},
   {"mark": {"type": "point", "shape": "triangle-up", "filled": true, "fill": "white", "stroke": "black", "strokeWidth": 0.8, "size": 100, "opacity": 1},
    "encoding": {
     "x": {"field": "E", "type": "quantitative", "scale": {"domain": [-17.86, 612], "nice": false, "zero": false},
           "axis": {"orient": "top", "values": [100,200,300,400,500,600], "labels": false, "title": null, "tickSize": -5, "grid": false}},
     "y": {"field": "I", "type": "quantitative", "scale": {"type": "log", "domain": [2.7e-8, 0.12], "nice": false},
           "axis": {"orient": "right", "values": [3e-8,4e-8,5e-8,6e-8,7e-8,8e-8,9e-8,2e-7,3e-7,4e-7,5e-7,6e-7,7e-7,8e-7,9e-7,2e-6,3e-6,4e-6,5e-6,6e-6,7e-6,8e-6,9e-6,2e-5,3e-5,4e-5,5e-5,6e-5,7e-5,8e-5,9e-5,0.0002,0.0003,0.0004,0.0005,0.0006,0.0007,0.0008,0.0009,0.002,0.003,0.004,0.005,0.006,0.007,0.008,0.009,0.02,0.03,0.04,0.05,0.06,0.07,0.08,0.09], "labels": false, "title": null, "tickSize": -3, "grid": false}},
     "stroke": {"datum": "w", "scale": {"range": ["black"]},
       "legend": {"orient": "none", "legendX": 43, "legendY": 11, "title": null,
         "labelExpr": "['Energy distribution of reflected', 'hydrogen atoms at W surface']",
         "labelFontSize": 17, "labelFontWeight": "bold", "labelColor": "black", "labelLimit": 0, "labelLineHeight": 19, "labelOffset": 15,
         "symbolType": "M-3.2,0.3L-0.72,0.3M0.72,0.3L3.2,0.3M0,-1L1,0.8L-1,0.8Z", "symbolSize": 121, "symbolOffset": 7, "symbolStrokeWidth": 1.3,
         "fillColor": "white", "strokeColor": "black", "padding": 2.5, "cornerRadius": 0}}
    }}
  ],
  "resolve": {"axis": {"x": "independent", "y": "independent"}}
 },
 {
  "width": 564, "height": 300,
  "title": {"text": "(d)", "anchor": "start", "frame": "group", "orient": "top", "offset": 0, "dx": -10, "dy": 45, "baseline": "alphabetic", "font": "Liberation Serif", "fontSize": 28, "fontWeight": "bold", "color": "black"},
  "resolve": {"scale": {"shape": "independent", "fill": "independent", "stroke": "independent"}, "axis": {"x": "independent"}},
  "layer": [
   {"data": {"values": [{"a": [0,5,10,15,20,25,30,35,40,45,50,55,60,65,70,75,80,85,90,95,100,105,110,115,120,125,130,135,140,145,150,155,160,165,170,175,180], "rr": [0.2,0.4,0.6,0.8,1]}]},
    "transform": [{"flatten": ["a"]}, {"flatten": ["rr"]}, {"calculate": "datum.rr*cos(datum.a*PI/180)", "as": "px"}, {"calculate": "datum.rr*sin(datum.a*PI/180)", "as": "py"}],
    "mark": {"type": "line", "clip": false},
    "encoding": {
     "x": {"field": "px", "type": "quantitative", "scale": {"domain": [-1, 1], "nice": false, "zero": false},
           "axis": {"orient": "bottom", "title": "Reflected Atoms Per Steradian", "titleFontSize": 14.5, "titleFontWeight": "bold", "titlePadding": 14, "labels": false, "ticks": false, "domain": false, "grid": false}},
     "y": {"field": "py", "type": "quantitative", "scale": {"domain": [0, 1.0638], "nice": false, "zero": false}, "axis": null},
     "detail": {"field": "rr", "type": "nominal"},
     "order": {"field": "a", "type": "quantitative"},
     "color": {"condition": {"test": "datum.rr == 1", "value": "black"}, "value": "#8a8a8a"},
     "strokeWidth": {"condition": {"test": "datum.rr == 1", "value": 1.3}, "value": 0.8}}},
   {"data": {"values": [{"a": [0,15,30,45,60,75,90,105,120,135,150,165,180]}]},
    "transform": [{"flatten": ["a"]}, {"calculate": "0", "as": "px"}, {"calculate": "0", "as": "py"}, {"calculate": "cos(datum.a*PI/180)", "as": "px2"}, {"calculate": "sin(datum.a*PI/180)", "as": "py2"}],
    "mark": {"type": "rule", "clip": false},
    "encoding": {
     "x": {"field": "px", "type": "quantitative", "scale": {"domain": [-1, 1], "nice": false, "zero": false}, "axis": null},
     "y": {"field": "py", "type": "quantitative", "scale": {"domain": [0, 1.0638], "nice": false, "zero": false}, "axis": null},
     "x2": {"field": "px2"}, "y2": {"field": "py2"},
     "color": {"condition": {"test": "datum.a == 0 || datum.a == 90 || datum.a == 180", "value": "black"}, "value": "#8a8a8a"},
     "strokeWidth": {"condition": {"test": "datum.a == 0 || datum.a == 180", "value": 1.3}, "value": 0.8}}},
   {"data": {"values": [{"a": [5,10,20,25,35,40,50,55,65,70,80,85,95,100,110,115,125,130,140,145,155,160,170,175]}]},
    "transform": [{"flatten": ["a"]}, {"calculate": "0.975*cos(datum.a*PI/180)", "as": "px"}, {"calculate": "0.975*sin(datum.a*PI/180)", "as": "py"}, {"calculate": "cos(datum.a*PI/180)", "as": "px2"}, {"calculate": "sin(datum.a*PI/180)", "as": "py2"}],
    "mark": {"type": "rule", "color": "black", "strokeWidth": 0.8, "clip": false},
    "encoding": {
     "x": {"field": "px", "type": "quantitative", "scale": {"domain": [-1, 1], "nice": false, "zero": false}, "axis": null},
     "y": {"field": "py", "type": "quantitative", "scale": {"domain": [0, 1.0638], "nice": false, "zero": false}, "axis": null},
     "x2": {"field": "px2"}, "y2": {"field": "py2"}}},
   {"data": {"values": [{"a": [0,15,30,45,60,75,90,105,120,135,150,165,180]}]},
    "transform": [{"flatten": ["a"]}, {"calculate": "1.045*cos(datum.a*PI/180)", "as": "px"}, {"calculate": "1.045*sin(datum.a*PI/180)", "as": "py"}],
    "mark": {"type": "text", "fontSize": 12, "color": "#222", "align": "center", "baseline": "middle", "clip": false},
    "encoding": {
     "x": {"field": "px", "type": "quantitative", "scale": {"domain": [-1, 1], "nice": false, "zero": false}, "axis": null},
     "y": {"field": "py", "type": "quantitative", "scale": {"domain": [0, 1.0638], "nice": false, "zero": false}, "axis": null},
     "text": {"field": "a", "type": "quantitative", "format": "d"}}},
   {"data": {"values": [{"v": [0.2,0.4,0.6,0.8,1]}]},
    "transform": [{"flatten": ["v"]}, {"calculate": "0", "as": "px"}, {"calculate": "datum.v", "as": "py"}],
    "mark": {"type": "text", "fontSize": 12, "color": "#666", "align": "center", "baseline": "middle", "clip": false},
    "encoding": {
     "x": {"field": "px", "type": "quantitative", "scale": {"domain": [-1, 1], "nice": false, "zero": false}, "axis": null},
     "y": {"field": "py", "type": "quantitative", "scale": {"domain": [0, 1.0638], "nice": false, "zero": false}, "axis": null},
     "text": {"field": "v", "type": "quantitative", "format": "~g"}}},
   {"data": {"values": [{"v": [0,0.2,0.4,0.6,0.8,1]}]},
    "transform": [{"flatten": ["v"]}, {"calculate": "datum.v", "as": "px"}, {"calculate": "0", "as": "py"}],
    "mark": {"type": "text", "fontSize": 12, "color": "#333", "align": "center", "baseline": "top", "dy": 1, "clip": false},
    "encoding": {
     "x": {"field": "px", "type": "quantitative", "scale": {"domain": [-1, 1], "nice": false, "zero": false}, "axis": null},
     "y": {"field": "py", "type": "quantitative", "scale": {"domain": [0, 1.0638], "nice": false, "zero": false}, "axis": null},
     "text": {"field": "v", "type": "quantitative", "format": "~g"}}},
   {"data": {"name": "wA"},
    "transform": [{"calculate": "datum.r*cos(datum.a*PI/180)", "as": "px"}, {"calculate": "datum.r*sin(datum.a*PI/180)", "as": "py"}],
    "mark": {"type": "line", "strokeWidth": 1, "clip": false},
    "encoding": {
     "x": {"field": "px", "type": "quantitative", "scale": {"domain": [-1, 1], "nice": false, "zero": false}, "axis": null},
     "y": {"field": "py", "type": "quantitative", "scale": {"domain": [0, 1.0638], "nice": false, "zero": false}, "axis": null},
     "detail": {"field": "s", "type": "nominal"},
     "order": {"field": "a", "type": "quantitative"},
     "stroke": {"field": "s", "type": "nominal", "scale": {"domain": ["> 0 eV","≥ 33.33 eV","≥ 50 eV","≥ 66.67 eV"], "range": ["#6e6e6e","black","#6e6e6e","black"]}, "legend": null}}},
   {"data": {"name": "wA"},
    "transform": [{"calculate": "datum.r*cos(datum.a*PI/180)", "as": "px"}, {"calculate": "datum.r*sin(datum.a*PI/180)", "as": "py"}],
    "mark": {"type": "point", "filled": true, "size": 70, "strokeWidth": 0.9, "opacity": 1, "clip": false},
    "encoding": {
     "x": {"field": "px", "type": "quantitative", "scale": {"domain": [-1, 1], "nice": false, "zero": false}, "axis": null},
     "y": {"field": "py", "type": "quantitative", "scale": {"domain": [0, 1.0638], "nice": false, "zero": false}, "axis": null},
     "stroke": {"field": "s", "type": "nominal", "scale": {"domain": ["> 0 eV","≥ 33.33 eV","≥ 50 eV","≥ 66.67 eV"], "range": ["#6e6e6e","black","#6e6e6e","black"]}, "legend": null},
     "fill": {"field": "s", "type": "nominal", "scale": {"domain": ["> 0 eV","≥ 33.33 eV","≥ 50 eV","≥ 66.67 eV"], "range": ["white","black","white","black"]}, "legend": null},
     "shape": {"field": "s", "type": "nominal", "scale": {"domain": ["> 0 eV","≥ 33.33 eV","≥ 50 eV","≥ 66.67 eV"], "range": ["diamond","diamond","triangle-down","triangle-down"]}, "legend": null}}},
   {"data": {"name": "wA"},
    "transform": [{"filter": "false"}],
    "mark": {"type": "point", "filled": true, "size": 100, "opacity": 1, "strokeWidth": 1},
    "encoding": {
     "stroke": {"field": "s", "type": "nominal", "scale": {"domain": ["> 0 eV","≥ 33.33 eV","≥ 50 eV","≥ 66.67 eV"], "range": ["#6e6e6e","black","#6e6e6e","black"]},
       "legend": {"orient": "none", "legendX": 414, "legendY": 3, "padding": 0, "title": ["Angular Distribution of reflected", "hydrogen atoms at W surface"], "titleFontSize": 13, "titleFontWeight": "bold", "titleColor": "black", "titleAnchor": "middle", "titleAlign": "center", "titleLineHeight": 14, "titlePadding": 0, "titleLimit": 0, "labelFontSize": 13.5, "labelFontWeight": "bold", "labelColor": "black", "labelOffset": 15, "labelLimit": 0, "symbolSize": 100, "symbolStrokeWidth": 1, "symbolOffset": 68, "rowPadding": -2.9}},
     "fill": {"field": "s", "type": "nominal", "scale": {"domain": ["> 0 eV","≥ 33.33 eV","≥ 50 eV","≥ 66.67 eV"], "range": ["white","black","white","black"]},
       "legend": {"orient": "none", "legendX": 414, "legendY": 3, "padding": 0, "title": ["Angular Distribution of reflected", "hydrogen atoms at W surface"], "titleFontSize": 13, "titleFontWeight": "bold", "titleColor": "black", "titleAnchor": "middle", "titleAlign": "center", "titleLineHeight": 14, "titlePadding": 0, "titleLimit": 0, "labelFontSize": 13.5, "labelFontWeight": "bold", "labelColor": "black", "labelOffset": 15, "labelLimit": 0, "symbolSize": 100, "symbolStrokeWidth": 1, "symbolOffset": 68, "rowPadding": -2.9}},
     "shape": {"field": "s", "type": "nominal", "scale": {"domain": ["> 0 eV","≥ 33.33 eV","≥ 50 eV","≥ 66.67 eV"], "range": ["M-2.6,0L-1,0M1,0L2.6,0M0,-1L1,0L0,1L-1,0Z","M-2.6,0L-1,0M1,0L2.6,0M0,-1L1,0L0,1L-1,0Z","M-2.6,0L-0.55,0M0.55,0L2.6,0M-1,-0.8L1,-0.8L0,0.95Z","M-2.6,0L-0.55,0M0.55,0L2.6,0M-1,-0.8L1,-0.8L0,0.95Z"]},
       "legend": {"orient": "none", "legendX": 414, "legendY": 3, "padding": 0, "title": ["Angular Distribution of reflected", "hydrogen atoms at W surface"], "titleFontSize": 13, "titleFontWeight": "bold", "titleColor": "black", "titleAnchor": "middle", "titleAlign": "center", "titleLineHeight": 14, "titlePadding": 0, "titleLimit": 0, "labelFontSize": 13.5, "labelFontWeight": "bold", "labelColor": "black", "labelOffset": 15, "labelLimit": 0, "symbolSize": 100, "symbolStrokeWidth": 1, "symbolOffset": 68, "rowPadding": -2.9}}}}
  ]
 }
], "spacing": 52, "resolve": {"scale": {"shape": "independent", "fill": "independent", "stroke": "independent"}, "legend": {"shape": "independent", "fill": "independent", "stroke": "independent"}}}
]
}
